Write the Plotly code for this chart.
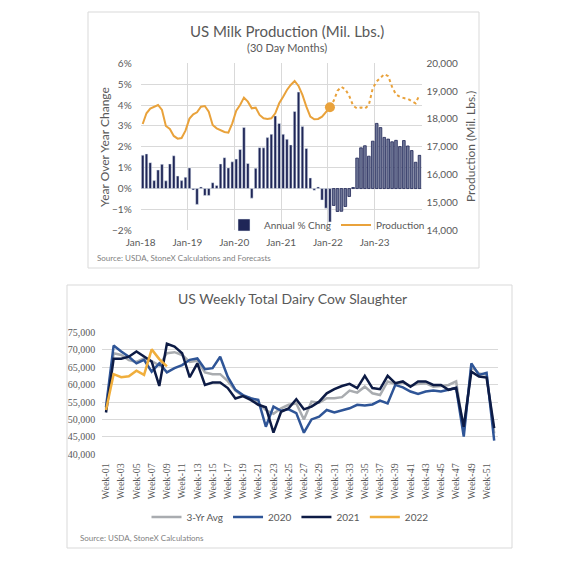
import plotly.graph_objects as go
import pandas as pd

# --- US Milk Production (monthly, Jan-18 .. Dec-23) ---
months = pd.date_range("2018-01-01", "2023-12-01", freq="MS")

yoy_pct = [
    1.60, 1.66, 1.24, 0.38, 0.89, 1.16, 0.37, 1.18, 1.57, 0.60, 0.38, 0.54,
    0.99, -0.07, -0.76, 0.08, -0.33, -0.33, 0.28, 0.15, 1.18, 1.48, 0.99, 1.28,
    1.41, 1.87, 2.93, 1.20, -0.46, 0.97, 1.96, 1.95, 2.44, 2.60, 3.48, 3.12,
    2.60, 2.36, 2.09, 3.69, 4.62, 2.97, 1.92, 0.51, -0.08, 0.08, -0.55, -0.94,
    -1.60, -0.81, -1.10, -1.09, -0.86, -0.38, 0.05, 1.46, 1.95, 2.05, 1.55, 2.27,
    3.12, 2.92, 2.45, 2.37, 2.24, 2.31, 2.01, 2.30, 2.04, 1.82, 1.26, 1.59,
]

production = [
    17820, 18204, 18371, 18431, 18503, 18323, 17749, 17641, 17390, 17293, 17317, 17581,
    18012, 18168, 18240, 18443, 18467, 18263, 17784, 17665, 17593, 17533, 17509, 17844,
    18299, 18503, 18766, 18623, 18383, 18407, 18144, 18024, 18000, 18024, 18204, 18563,
    18802, 19042, 19222, 19365, 19186, 18862, 18443, 18084, 17988, 18000, 18084, 18263,
    18420, 18652, 19010, 19153, 19069, 18831, 18473, 18377, 18413, 18377, 18500, 19100,
    19350, 19480, 19610, 19540, 19150, 18880, 18800, 18750, 18720, 18640, 18560, 18870,
]

n_actual = 49  # through Jan-22; later months are forecasts
year_ticks = pd.date_range("2018-01-01", "2024-01-01", freq="YS")
year_labels = ["Jan-18", "Jan-19", "Jan-20", "Jan-21", "Jan-22", "Jan-23", ""]

# --- US Weekly Total Dairy Cow Slaughter ---
weeks = [f"Week-{i:02d}" for i in range(1, 53)]

avg_3yr = [
    53000, 69000, 68500, 67000, 66500, 67500, 66700, 65500, 69000, 69300, 68500, 66500,
    66800, 63500, 63000, 63000, 61000, 58300, 56700, 56100, 54600, 52700, 51600, 53200,
    54200, 54600, 50000, 55100, 54800, 56100, 56100, 56400, 58300, 57700, 59400, 57500,
    57000, 60900, 60200, 60600, 59600, 60200, 60400, 59400, 59600, 59900, 60900, 46500,
    65200, 63200, 62800, 46000,
]
y2020 = [
    53500, 71200, 69500, 68000, 66100, 67100, 63700, 66100, 63500, 64700, 65600, 67100,
    67500, 64400, 64700, 68000, 62200, 58500, 57000, 56100, 55600, 47900, 53700, 52500,
    52900, 51800, 46200, 50000, 50800, 52700, 52000, 52500, 53200, 54200, 54000, 54300,
    55400, 54600, 59900, 59200, 58000, 57300, 58000, 58300, 58000, 58500, 59000, 45100,
    66100, 62800, 63400, 43900,
]
y2021 = [
    52000, 67400, 67400, 68000, 69500, 68000, 66600, 59600, 71700, 70900, 69000, 62100,
    66100, 59900, 60600, 60600, 59000, 56000, 56700, 55600, 54200, 53500, 46200, 52200,
    53200, 55800, 52900, 53700, 55100, 57500, 58700, 59600, 60200, 59000, 62500, 59000,
    58700, 62500, 60400, 60900, 59400, 60900, 60900, 59900, 59900, 58500, 59100, 47900,
    63700, 62300, 62000, 47500,
]
y2022 = [52700, 63000, 62100, 62400, 64000, 62800, 70100, 67300, 65200]

# the page body has an 8px margin, so the figure is shrunk and shifted by it
OFF = 8
W, H = 577 - 2 * OFF, 563 - 2 * OFF
def px(x):
    return (x - OFF) / W
def py(y):
    return 1 - (y - OFF) / H

NAVY = "#1F2657"
FCST = "#6F7797"
ORANGE = "#E9A23B"
GRID = "#D9D9D9"
TXT = "#595959"

fig = go.Figure()

# top chart bars
fig.add_trace(go.Bar(
    x=months[:n_actual], y=[v / 100 for v in yoy_pct[:n_actual]],
    xperiod="M1", xperiodalignment="middle",
    marker_color=NAVY, name="Annual % Chng", legend="legend",
    xaxis="x", yaxis="y",
))
fig.add_trace(go.Bar(
    x=months[n_actual:], y=[v / 100 for v in yoy_pct[n_actual:]],
    xperiod="M1", xperiodalignment="middle",
    marker=dict(color=FCST, line=dict(color=NAVY, width=0.8)),
    showlegend=False, xaxis="x", yaxis="y",
))
# production line
fig.add_trace(go.Scatter(
    x=months[:n_actual], y=production[:n_actual],
    xperiod="M1", xperiodalignment="middle",
    mode="lines", line=dict(color=ORANGE, width=2),
    name="Production", legend="legend", xaxis="x", yaxis="y2",
))
fig.add_trace(go.Scatter(
    x=months[n_actual - 1:], y=production[n_actual - 1:],
    xperiod="M1", xperiodalignment="middle",
    mode="lines", line=dict(color=ORANGE, width=2, dash="dot"),
    showlegend=False, xaxis="x", yaxis="y2",
))
fig.add_trace(go.Scatter(
    x=[months[n_actual - 1]], y=[production[n_actual - 1]],
    xperiod="M1", xperiodalignment="middle",
    mode="markers", marker=dict(color=ORANGE, size=10),
    showlegend=False, xaxis="x", yaxis="y2",
))

# bottom chart lines
for name, vals, col in [("3-Yr Avg", avg_3yr, "#A9ACB0"), ("2020", y2020, "#2F5597"),
                        ("2021", y2021, "#0D1B45"), ("2022", y2022, "#F0AE3C")]:
    fig.add_trace(go.Scatter(
        x=weeks[:len(vals)], y=vals, mode="lines", name=name,
        line=dict(color=col, width=2.5), legend="legend2",
        xaxis="x2", yaxis="y3",
    ))

tickfont = dict(family="Lato", size=10, color=TXT)
serif = dict(family="Liberation Serif", size=10, color=TXT)


def note(text, x, y, size, color=TXT, angle=0, xanchor="center"):
    return dict(text=text, x=px(x), y=py(y), xref="paper", yref="paper",
                showarrow=False, textangle=angle, xanchor=xanchor, yanchor="middle",
                font=dict(size=size, color=color))


fig.update_layout(
    width=W, height=H,
    margin=dict(l=0, r=0, t=0, b=0, autoexpand=False),
    paper_bgcolor="white", plot_bgcolor="white",
    font=dict(family="Lato", color=TXT),
    bargap=0.3,
    xaxis=dict(
        domain=[px(140.7), px(421.5)], anchor="y", automargin=False,
        range=["2018-01-01", "2024-01-01"],
        tickvals=year_ticks, ticktext=year_labels,
        showgrid=True, gridcolor=GRID, tickfont=tickfont,
        ticklabelstandoff=5,
    ),
    yaxis=dict(
        domain=[py(230.3), py(63.3)], anchor="x", automargin=False,
        range=[-0.02, 0.06], dtick=0.01, tickformat=".0%",
        showgrid=True, gridcolor=GRID, zeroline=False, tickfont=tickfont,
        ticklabelstandoff=8,
    ),
    yaxis2=dict(
        overlaying="y", side="right", anchor="x", automargin=False,
        range=[14000, 20000], dtick=1000, tickformat=",",
        showgrid=False, zeroline=False, tickfont=tickfont,
        ticklabelstandoff=4,
    ),
    xaxis2=dict(
        domain=[px(102.2), px(498)], anchor="y3", automargin=False,
        type="category", range=[-0.5, 51.5],
        tickmode="array", tickvals=weeks[::2], tickangle=-90,
        showgrid=False, tickfont=serif,
        ticklabelstandoff=6,
    ),
    yaxis3=dict(
        domain=[py(454.3), py(332.3)], anchor="x2", automargin=False,
        range=[40000, 75000], dtick=5000, tickformat=",",
        showgrid=True, gridcolor=GRID, zeroline=False, tickfont=serif,
        ticklabelstandoff=6,
    ),
    legend=dict(
        orientation="h", x=px(224), y=py(225), xanchor="left", yanchor="middle",
        font=dict(size=10, color=TXT), bgcolor="rgba(0,0,0,0)",
        traceorder="normal", itemwidth=30,
    ),
    legend2=dict(
        orientation="h", x=px(290), y=py(517), xanchor="center", yanchor="middle",
        font=dict(size=10, color=TXT), bgcolor="rgba(0,0,0,0)",
        traceorder="normal", itemwidth=30,
    ),
    shapes=[
        dict(type="rect", xref="paper", yref="paper",
             x0=px(88), x1=px(479), y0=py(268), y1=py(12),
             line=dict(color=GRID, width=1)),
        dict(type="rect", xref="paper", yref="paper",
             x0=px(67), x1=px(512), y0=py(548), y1=py(285),
             line=dict(color=GRID, width=1)),
    ],
    annotations=[
        note("US Milk Production (Mil. Lbs.)", 287, 31, 15),
        note("(30 Day Months)", 287, 47, 11),
        note("Year Over Year Change", 104, 147, 12, angle=-90),
        note("Production (Mil. Lbs.)", 470, 147, 12, angle=-90),
        note("Source: USDA, StoneX Calculations and Forecasts", 95, 258, 8,
             color="#7F7F7F", xanchor="left"),
        note("US Weekly Total Dairy Cow Slaughter", 292, 298, 14),
        note("Source: USDA, StoneX Calculations", 78, 538, 8,
             color="#7F7F7F", xanchor="left"),
    ],
)

fig.write_html("out.html")
